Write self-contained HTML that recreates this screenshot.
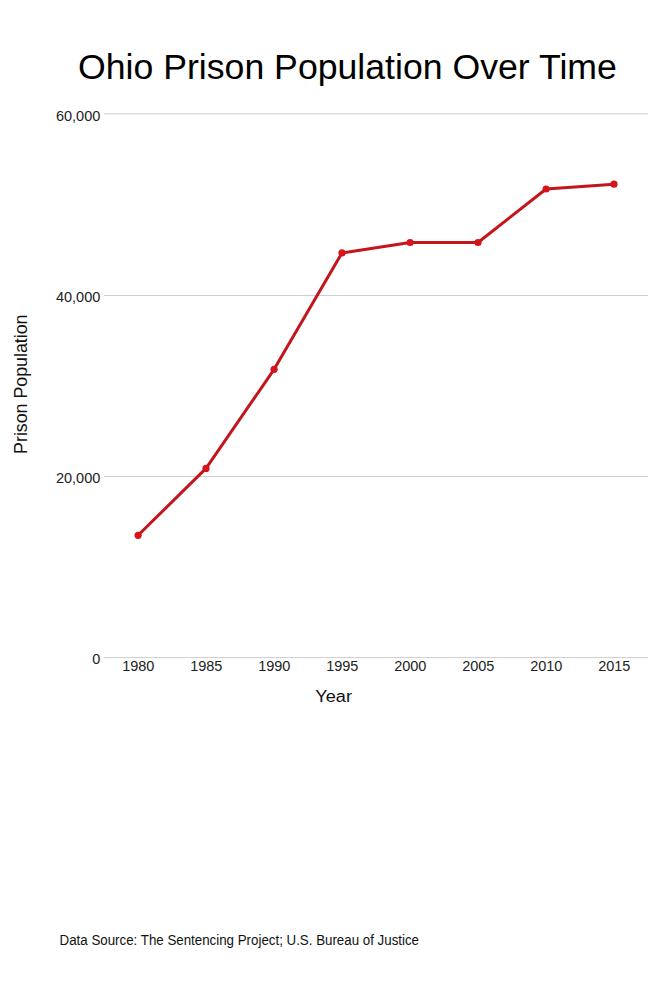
<!DOCTYPE html>
<html><head><meta charset="utf-8"><title>Ohio Prison Population Over Time</title>
<style>html,body{margin:0;padding:0;background:#fff;width:667px;height:1000px;overflow:hidden}svg{display:block;font-family:"Liberation Sans",sans-serif}</style>
</head><body>
<svg width="667" height="1000" viewBox="0 0 667 1000">
<rect x="0" y="0" width="667" height="1000" fill="#fff"/>
<line x1="104" x2="648" y1="113.87" y2="113.87" stroke="#cecece" stroke-width="1"/>
<line x1="104" x2="648" y1="295.47" y2="295.47" stroke="#cecece" stroke-width="1"/>
<line x1="104" x2="648" y1="476.47" y2="476.47" stroke="#cecece" stroke-width="1"/>
<line x1="104" x2="648" y1="657.6" y2="657.6" stroke="#cecece" stroke-width="1"/>
<text x="100.3" y="120.87" text-anchor="end" font-size="14.5" fill="#222">60,000</text>
<text x="100.3" y="301.77" text-anchor="end" font-size="14.5" fill="#222">40,000</text>
<text x="100.3" y="482.67" text-anchor="end" font-size="14.5" fill="#222">20,000</text>
<text x="100.3" y="663.90" text-anchor="end" font-size="14.5" fill="#222">0</text>
<text x="138.3" y="670.7" text-anchor="middle" font-size="14.5" fill="#222">1980</text>
<text x="206.3" y="670.7" text-anchor="middle" font-size="14.5" fill="#222">1985</text>
<text x="274.3" y="670.7" text-anchor="middle" font-size="14.5" fill="#222">1990</text>
<text x="342.3" y="670.7" text-anchor="middle" font-size="14.5" fill="#222">1995</text>
<text x="410.3" y="670.7" text-anchor="middle" font-size="14.5" fill="#222">2000</text>
<text x="478.3" y="670.7" text-anchor="middle" font-size="14.5" fill="#222">2005</text>
<text x="546.3" y="670.7" text-anchor="middle" font-size="14.5" fill="#222">2010</text>
<text x="614.3" y="670.7" text-anchor="middle" font-size="14.5" fill="#222">2015</text>
<polyline points="138.1,535.3 206,468.4 274.1,369.3 342,252.9 410.1,242.5 478,242.5 546.1,189.0 614,184.2" fill="none" stroke="#c2151c" stroke-width="3.0" stroke-linejoin="round" stroke-linecap="round"/>
<circle cx="138.1" cy="535.3" r="3.6" fill="#d8131a"/>
<circle cx="206" cy="468.4" r="3.6" fill="#d8131a"/>
<circle cx="274.1" cy="369.3" r="3.6" fill="#d8131a"/>
<circle cx="342" cy="252.9" r="3.6" fill="#d8131a"/>
<circle cx="410.1" cy="242.5" r="3.6" fill="#d8131a"/>
<circle cx="478" cy="242.5" r="3.6" fill="#d8131a"/>
<circle cx="546.1" cy="189.0" r="3.6" fill="#d8131a"/>
<circle cx="614" cy="184.2" r="3.6" fill="#d8131a"/>
<text x="78" y="78.5" font-size="35.65" fill="#000">Ohio Prison Population Over Time</text>
<text transform="translate(333.6,702.2) scale(1.01,0.95)" x="0" y="0" text-anchor="middle" font-size="18" fill="#111">Year</text>
<text transform="translate(27.0,453.9) rotate(-90)" x="0" y="0" font-size="17.8" fill="#111">Prison Population</text>
<text transform="translate(59.6,944.9) scale(1,1.06)" x="0" y="0" font-size="13.33" fill="#111">Data Source: The Sentencing Project; U.S. Bureau of Justice</text>
</svg>
</body></html>
